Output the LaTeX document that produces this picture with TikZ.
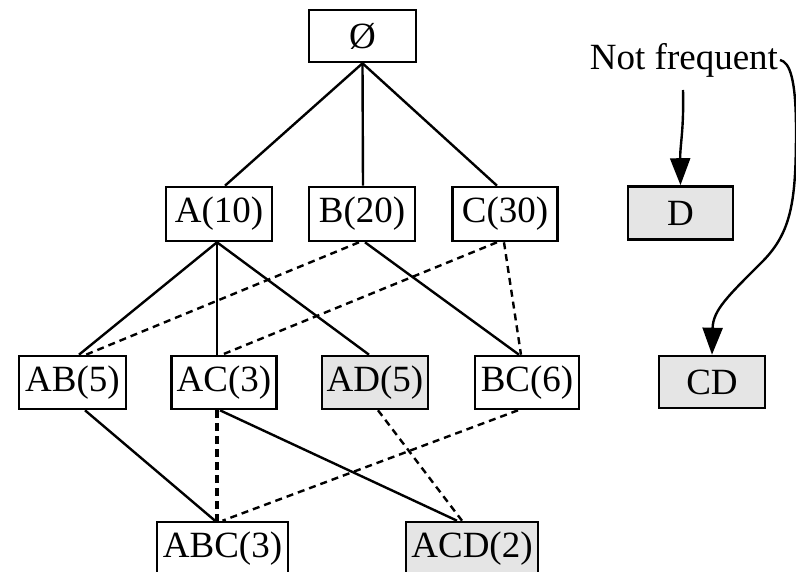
\documentclass[tikz,border=0pt]{standalone}
\usepackage{fontspec}
\setmainfont{Liberation Serif}
\usetikzlibrary{arrows.meta}
\begin{document}
\begin{tikzpicture}[x=1pt,y=-1pt,
  box/.style={draw, line width=2.6pt, minimum height=53pt, minimum width=106pt, inner sep=0pt,
    font=\fontsize{37}{40}\selectfont},
  infreq/.style={box, fill=gray!20},
  sol/.style={line width=2.4pt},
  dsh/.style={line width=2.4pt, dash pattern=on 7pt off 5pt},
  dshthick/.style={line width=3.2pt, dash pattern=on 8pt off 5pt},
  arr/.style={line width=2.4pt, -{Triangle[width=20pt,length=27pt]}}
]
\useasboundingbox (0,0) rectangle (796,572);
% nodes
\node[box, minimum width=107pt, minimum height=52pt] (E) at (362.5,36) {Ø};
\node[box, minimum height=54pt] (A) at (219,214) {A(10)};
\node[box, minimum height=54pt] (B) at (362,214) {B(20)};
\node[box, minimum height=54pt, minimum width=105pt] (C) at (505,214) {C(30)};
\node[infreq, minimum width=105pt] (D) at (680.5,213) {D};
\node[box, minimum width=107pt] (AB) at (72.5,382.5) {AB(5)};
\node[box, minimum width=105pt] (AC) at (224,382.5) {AC(3)};
\node[infreq] (AD) at (375,382.5) {AD(5)};
\node[box, minimum width=104pt] (BC) at (527,382.5) {BC(6)};
\node[infreq, minimum height=52pt] (CD) at (712,382) {CD};
\node[box, minimum width=131pt] (ABC) at (222.5,548.5) {ABC(3)};
\node[infreq, minimum width=132pt] (ACD) at (472,548.5) {ACD(2)};
\node[anchor=base, font=\fontsize{37}{40}\selectfont, inner sep=0pt] (NF) at (684,70) {Not frequent};
\coordinate (nfD) at (683,90);
\coordinate (nfCD) at (780,60);
% level 1
\draw[sol] (E.south) -- ([xshift=6pt]A.north);
\draw[sol] (E.south) -- ([xshift=1pt]B.north);
\draw[sol] (E.south) -- ([xshift=-8pt]C.north);
% level 2
\draw[sol] ([xshift=-2pt]A.south) -- ([xshift=6.5pt]AB.north);
\draw[sol] ([xshift=-2pt]A.south) -- ([xshift=-7pt]AC.north);
\draw[sol] ([xshift=-2pt]A.south) -- ([xshift=-6pt]AD.north);
\draw[dsh] ([xshift=-3pt]B.south) -- ([xshift=13.5pt]AB.north);
\draw[sol] ([xshift=3pt]B.south) -- ([xshift=-8pt]BC.north);
\draw[dsh] ([xshift=-8pt]C.south) -- ([xshift=-2pt]AC.north);
\draw[dsh] ([xshift=-1pt]C.south) -- ([xshift=-6pt]BC.north);
% level 3
\draw[sol] ([xshift=12.5pt]AB.south) -- ([xshift=-7.5pt]ABC.north);
\draw[dshthick] ([xshift=-7pt]AC.south) -- ([xshift=-5.5pt]ABC.north);
\draw[sol] ([xshift=-4pt]AC.south) -- ([xshift=-15pt]ACD.north);
\draw[dsh] ([xshift=3pt]AD.south) -- ([xshift=-10pt]ACD.north);
\draw[dsh] ([xshift=-9pt]BC.south) -- ([xshift=0pt]ABC.north);
% arrows
\draw[arr] (nfD) .. controls (684,130) and (680,145) .. (D.north);
\draw[arr] (nfCD) .. controls (790,62) and (796,80) .. (796,130)
  .. controls (796,200) and (792,232) .. (762,262)
  .. controls (728,296) and (713,310) .. (CD.north);
\end{tikzpicture}
\end{document}
